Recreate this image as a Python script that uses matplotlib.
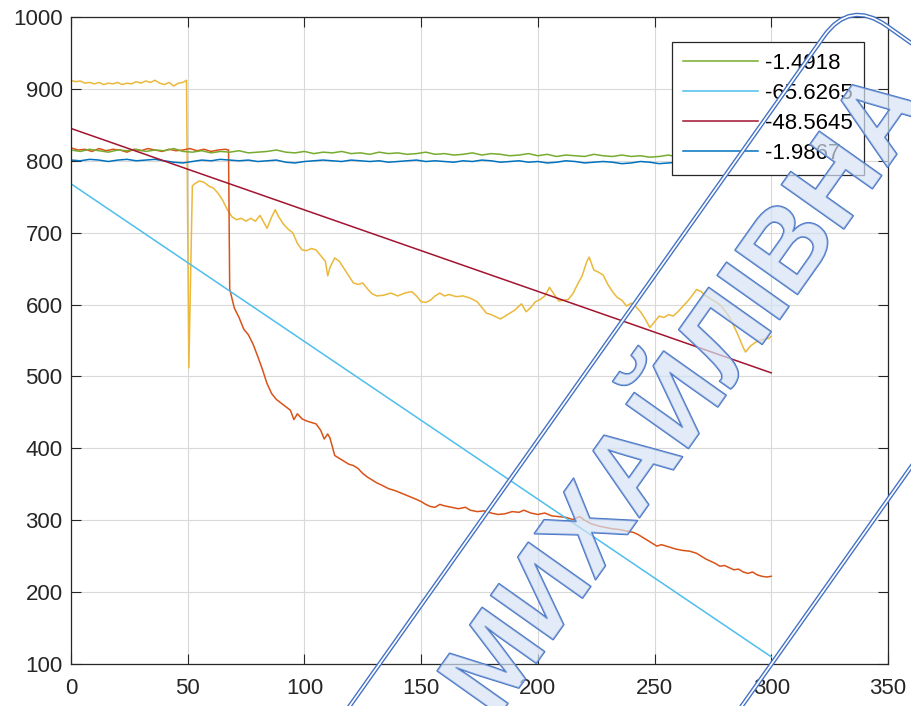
import numpy as np
import matplotlib.pyplot as plt
import matplotlib.patheffects as pe
from matplotlib.patches import FancyBboxPatch
from matplotlib.transforms import Affine2D, IdentityTransform

plt.rcParams['font.family'] = ['Liberation Sans', 'DejaVu Sans']

# yellow trace (jump at 50)
yellow_x = [0, 2, 4, 6, 8, 10, 12, 14, 16, 18, 20, 22, 24, 26, 28, 30, 32, 34, 36, 38,
            40, 42, 44, 46, 48, 49.5, 50.5, 52, 53, 55, 57, 59, 61, 63, 65, 67, 69, 71,
            73, 75, 77, 79, 81, 83, 84, 86, 87.5, 89, 91, 93, 95, 97, 99, 101, 103, 105,
            107, 109, 110, 111, 113, 115, 117, 119, 121, 123, 125, 127, 129, 131, 134,
            137, 140, 143, 146, 148, 150, 152, 154, 156, 158, 160, 162, 165, 168, 171,
            174, 176, 178, 180, 182, 184, 186, 188, 190, 192, 193, 195, 197, 199, 201,
            203, 205, 207, 209, 211, 213, 215, 217, 219, 221, 222, 224, 226, 228, 230,
            232, 234, 236, 238, 240, 242, 244, 246, 248, 250, 252, 254, 256, 258, 260,
            262, 264, 266, 268, 270, 272, 274, 276, 278, 280, 282, 284, 286, 288, 289,
            291, 293, 295, 297, 299, 300]
yellow_y = [912, 910, 911, 908, 909, 907, 909, 906, 908, 907, 909, 906, 908, 907, 910, 908,
            911, 909, 912, 908, 906, 909, 904, 908, 909, 912, 512, 765, 768, 772, 770, 765,
            762, 755, 745, 732, 722, 718, 720, 716, 720, 716, 724, 712, 706, 722, 732, 722,
            712, 705, 700, 685, 676, 675, 678, 676, 668, 660, 640, 652, 665, 660, 650, 640,
            630, 628, 630, 622, 615, 612, 613, 616, 612, 616, 618, 612, 604, 603, 606, 612,
            616, 612, 614, 611, 612, 609, 604, 596, 588, 586, 583, 580, 584, 588, 592, 598,
            601, 590, 596, 604, 607, 612, 624, 614, 605, 606, 607, 615, 628, 640, 660, 666,
            648, 645, 641, 628, 618, 610, 606, 598, 602, 597, 590, 580, 568, 576, 584, 582,
            586, 584, 590, 597, 604, 612, 621, 618, 612, 608, 604, 600, 592, 583, 570, 556,
            540, 534, 542, 547, 550, 552, 553, 556]

# orange trace (jump near 67)
orange_x = [0, 3, 6, 9, 12, 15, 18, 21, 24, 27, 30, 33, 36, 39, 42, 45, 48, 51, 54, 57,
            60, 63, 66, 67.5, 68, 69, 70, 72, 74, 76, 78, 80, 82, 84, 86, 88, 90, 92, 94,
            95.5, 97, 99, 101, 103, 105, 107, 108.5, 110, 111, 113, 115, 117, 119, 121,
            123, 125, 127, 129, 131, 133, 136, 139, 142, 145, 148, 150, 152, 154, 156,
            158, 160, 163, 166, 169, 171, 174, 177, 180, 183, 186, 189, 192, 194, 197,
            200, 203, 206, 209, 212, 215, 218, 220, 223, 226, 229, 232, 235, 238, 241,
            243, 245, 247, 249, 251, 253, 256, 259, 262, 265, 268, 270, 272, 274, 276,
            278, 280, 282, 284, 286, 288, 290, 292, 294, 296, 298, 300]
orange_y = [818, 815, 816, 813, 817, 814, 816, 815, 812, 816, 814, 817, 815, 813, 816, 814,
            815, 817, 814, 816, 813, 815, 816, 815, 622, 608, 595, 582, 566, 558, 545, 528,
            510, 490, 476, 468, 463, 458, 453, 440, 448, 441, 438, 436, 434, 425, 413, 420,
            414, 390, 386, 382, 378, 376, 372, 365, 360, 356, 352, 349, 344, 341, 337, 333,
            329, 326, 322, 319, 318, 322, 320, 318, 316, 318, 314, 312, 313, 310, 308, 309,
            312, 311, 314, 310, 308, 310, 306, 305, 304, 301, 305, 300, 295, 292, 290, 288,
            287, 285, 283, 280, 276, 272, 268, 264, 266, 263, 260, 258, 257, 254, 250, 246,
            243, 240, 236, 237, 234, 231, 232, 228, 226, 228, 224, 222, 221, 222]

# flat traces, sampled every 4
flat_x = np.arange(0, 301, 4)
green_y = [815, 813, 816, 814, 812, 815, 814, 816, 813, 815,
           814, 817, 813, 812, 814, 811, 813, 812, 814, 811,
           812, 813, 815, 812, 811, 813, 810, 812, 811, 813,
           810, 811, 809, 812, 810, 811, 809, 810, 812, 809,
           810, 808, 809, 811, 808, 810, 809, 807, 808, 810,
           807, 809, 806, 808, 807, 806, 809, 807, 806, 808,
           806, 807, 805, 806, 808, 805, 806, 807, 805, 806,
           804, 806, 805, 807, 805, 806]
blue_y = [801, 800, 802, 801, 799, 801, 802, 800, 801, 802,
          800, 798, 797, 799, 801, 800, 802, 801, 800, 801,
          799, 800, 801, 798, 797, 799, 800, 801, 800, 799,
          801, 800, 799, 800, 798, 799, 800, 801, 799, 800,
          799, 798, 800, 799, 801, 800, 798, 799, 800, 798,
          799, 797, 798, 800, 799, 797, 798, 799, 798, 796,
          797, 799, 798, 796, 797, 798, 797, 796, 798, 797,
          796, 797, 798, 796, 797, 796]

# fitted straight lines: end points
fit_x = [0, 300]
cyan_y = [768, 110]
red_y = [845, 505]

legend_labels = ['-1.4918', '-65.6265', '-48.5645', '-1.9867']

fig = plt.figure(figsize=(9.11, 7.06), dpi=100)
ax = fig.add_axes([0.0779, 0.0595, 0.8968, 0.9164])

ax.plot(yellow_x, yellow_y, color='#EBB83A', lw=1.1)
ax.plot(orange_x, orange_y, color='#D95319', lw=1.1)
l_green, = ax.plot(flat_x, green_y, color='#77AC30', lw=1.1)
l_blue, = ax.plot(flat_x, blue_y, color='#0072BD', lw=1.1)
l_cyan, = ax.plot(fit_x, cyan_y, color='#4DBEEE', lw=1.1)
l_red, = ax.plot(fit_x, red_y, color='#A2142F', lw=1.1)

ax.set_xlim(0, 350)
ax.set_ylim(100, 1000)
ax.set_xticks(np.arange(0, 351, 50))
ax.set_yticks(np.arange(100, 1001, 100))
ax.grid(True, color='#d9d9d9', lw=0.8)
ax.set_axisbelow(True)
ax.tick_params(direction='in', top=True, right=True, length=7, width=0.8,
               labelsize=16, colors='#262626')
ax.tick_params(axis='x', pad=10)
ax.tick_params(axis='y', pad=6)
for s in ax.spines.values():
    s.set_color('#262626')
    s.set_linewidth(0.9)

leg = ax.legend([l_green, l_cyan, l_red, l_blue], legend_labels, loc='upper right',
                bbox_to_anchor=(0.9706, 0.9613), borderaxespad=0, fontsize=16,
                handlelength=3.4, handletextpad=0.3, labelspacing=0.4,
                borderpad=0.5, fancybox=False, framealpha=1, edgecolor='#262626')
leg.get_frame().set_linewidth(0.9)

# watermark stamp (pixel coordinates)
stamp_tr = Affine2D().rotate_deg(54.7).translate(380, -511)
for lw, c in [(3.2, '#4472C4'), (1.2, 'white')]:
    box = FancyBboxPatch((0, 0), 1265, 320, boxstyle='round,pad=0,rounding_size=45',
                         transform=stamp_tr, fill=False, lw=lw, edgecolor=c, zorder=10)
    fig.add_artist(box)

fig.text(690, 310, 'МИХАЙЛІВНА', transform=IdentityTransform(), rotation=54.7,
         rotation_mode='anchor', ha='center', va='center', fontsize=80,
         fontweight='bold', family=['Liberation Sans Narrow', 'Liberation Sans'],
         color=(0.84, 0.89, 0.96, 0.45), zorder=11,
         path_effects=[pe.Stroke(linewidth=1.3, foreground='#4472C4'), pe.Normal()])

fig.savefig('out.png', dpi=100)
